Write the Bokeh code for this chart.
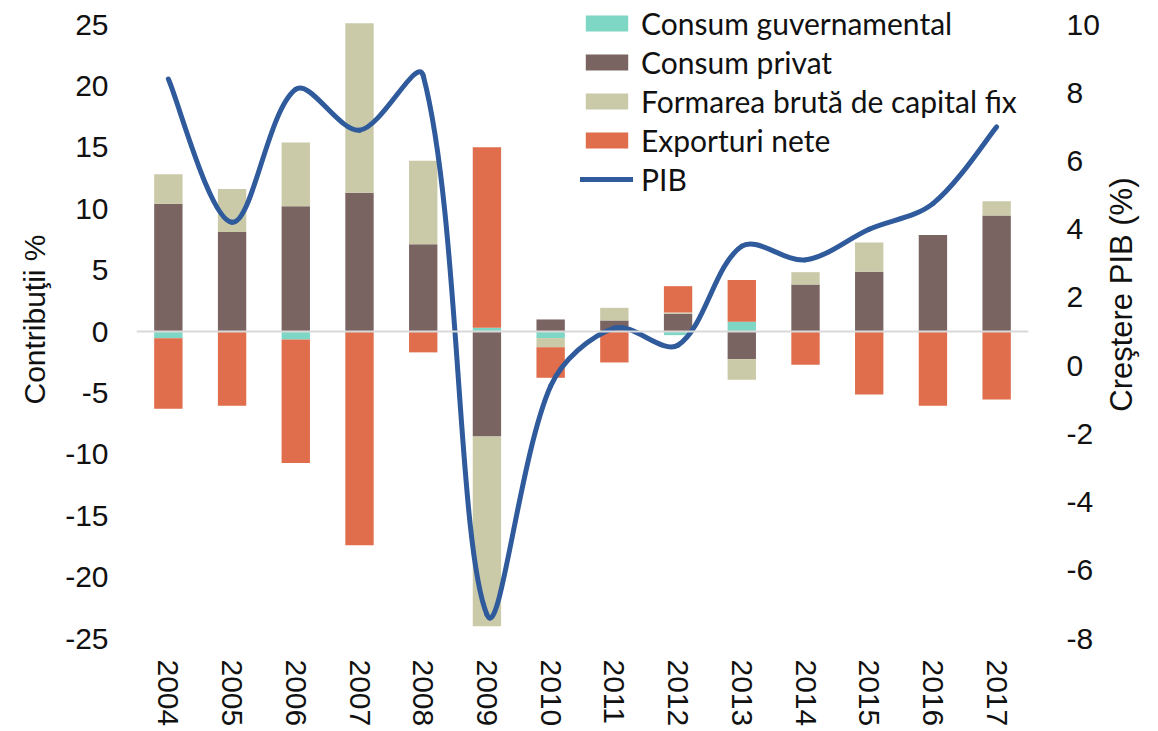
import math
import numpy as np
from bokeh.plotting import figure
from bokeh.layouts import row
from bokeh.models import (Range1d, LinearAxis, FixedTicker, Span, Legend,
                          LegendItem, ColumnDataSource)
from bokeh.core.properties import value
from bokeh.embed import file_html
from bokeh.resources import INLINE

# ---------------- data ----------------
years = [2004, 2005, 2006, 2007, 2008, 2009, 2010, 2011, 2012, 2013, 2014, 2015, 2016, 2017]
consum_guv = [-0.55, 0.0, -0.65, 0.0, 0.0, 0.3, -0.54, 0.0, -0.3, 0.8, 0.0, 0.0, 0.0, 0.0]
consum_priv = [10.4, 8.1, 10.2, 11.3, 7.1, -8.55, 0.98, 0.9, 1.45, -2.25, 3.83, 4.86, 7.85, 9.45]
fbcf = [2.4, 3.5, 5.2, 13.8, 6.8, -15.45, -0.74, 1.03, 0.1, -1.68, 1.0, 2.39, 0.0, 1.15]
export_nete = [-5.75, -6.05, -10.05, -17.4, -1.7, 14.7, -2.49, -2.52, 2.14, 3.4, -2.7, -5.13, -6.05, -5.54]
pib = [8.4, 4.2, 8.1, 6.9, 8.5, -7.3, -0.6, 1.1, 0.6, 3.5, 3.1, 4.0, 4.75, 7.0]

series_names = ["Consum guvernamental", "Consum privat",
                "Formarea brută de capital fix", "Exporturi nete"]
series_vals = [consum_guv, consum_priv, fbcf, export_nete]
series_colors = ["#7ed6c5", "#7a6461", "#cac9a8", "#e06d4b"]
pib_color = "#2f5a9b"

left_ticks = [-25, -20, -15, -10, -5, 0, 5, 10, 15, 20, 25]
right_ticks = [-8, -6, -4, -2, 0, 2, 4, 6, 8, 10]
left_title = "Contribuţii %"
right_title = "Creştere PIB (%)"

# ---------------- figure ----------------
TOTAL_W, H = 1158, 731
W = 1102                      # main figure; a narrow strip on the right holds the right title
MB_L, MB_R, MB_T, MB_B = 136, 72, 0, 93
FRAME_W = W - MB_L - MB_R
FRAME_H = H - MB_T - MB_B
FRAME_TOP_PAD = 24
frame_h_core = FRAME_H - FRAME_TOP_PAD
x_lo, x_hi = 2003.5, 2017.5
yl_lo, yl_hi = -25.0, 25.0 + FRAME_TOP_PAD * 50.0 / frame_h_core
yr_lo, yr_hi = -8.0, 10.0 + FRAME_TOP_PAD * 18.0 / frame_h_core
sx = FRAME_W / (x_hi - x_lo)        # px per year
sy = FRAME_H / (yr_hi - yr_lo)      # px per unit on right axis

p = figure(width=W, height=H, output_backend="svg", toolbar_location=None,
           x_range=Range1d(x_lo, x_hi), y_range=Range1d(yl_lo, yl_hi),
           min_border_left=MB_L, min_border_right=MB_R,
           min_border_top=MB_T, min_border_bottom=MB_B,
           y_axis_location=None, x_axis_location=None)
p.extra_y_ranges = {"pib": Range1d(yr_lo, yr_hi)}
p.outline_line_color = None
p.grid.visible = False
p.background_fill_color = "white"
p.border_fill_color = "white"

TICK_FONT = "Liberation Sans"


def style_axis(ax, standoff):
    ax.axis_line_color = None
    ax.major_tick_line_color = None
    ax.minor_tick_line_color = None
    ax.major_tick_out = 0
    ax.major_tick_in = 0
    ax.minor_tick_out = 0
    ax.minor_tick_in = 0
    ax.major_label_text_font = TICK_FONT
    ax.major_label_text_font_size = "30px"
    ax.major_label_text_color = "#111111"
    ax.major_label_standoff = standoff
    ax.axis_label_text_font = TICK_FONT
    ax.axis_label_text_font_size = "30px"
    ax.axis_label_text_font_style = "normal"
    ax.axis_label_text_color = "#111111"


yl = LinearAxis(ticker=FixedTicker(ticks=left_ticks), axis_label=left_title,
                major_label_overrides={t: str(t) for t in left_ticks})
style_axis(yl, 28)
yl.axis_label_standoff = 11
p.add_layout(yl, "left")

yr = LinearAxis(y_range_name="pib", ticker=FixedTicker(ticks=right_ticks),
                major_label_overrides={t: str(t) for t in right_ticks})
style_axis(yr, 38)
p.add_layout(yr, "right")

xb = LinearAxis(ticker=FixedTicker(ticks=years),
                major_label_overrides={y: str(y) for y in years})
style_axis(xb, 21)
xb.axis_label_standoff = 0
xb.major_label_orientation = "vertical"
p.add_layout(xb, "below")

# ---------------- stacked bars ----------------
pos_base = np.zeros(len(years))
neg_base = np.zeros(len(years))
renderers = []
for name, vals, col in zip(series_names, series_vals, series_colors):
    v = np.array(vals, dtype=float)
    bottom = np.where(v >= 0, pos_base, neg_base)
    top = bottom + v
    pos_base = np.where(v >= 0, top, pos_base)
    neg_base = np.where(v < 0, top, neg_base)
    src = ColumnDataSource(dict(x=years, bottom=bottom, top=top))
    r = p.vbar(x="x", bottom="bottom", top="top", width=0.445, source=src,
               fill_color=col, line_color=None)
    renderers.append(r)

# zero line
p.add_layout(Span(location=0, dimension="width", line_color="#d9d9d9", line_width=2))

# ---------------- smoothed PIB line (Excel-like bezier smoothing) ----------------
xs = np.array(years, dtype=float)
ys = np.array(pib, dtype=float)
n = len(xs)


def dist(i, j):
    return math.hypot((xs[j] - xs[i]) * sx, (ys[j] - ys[i]) * sy)


x0, y0, x1, y1, cx0, cy0, cx1, cy1 = [], [], [], [], [], [], [], []
for i in range(n - 1):
    ip = max(i - 1, 0)
    inn = min(i + 2, n - 1)
    d01 = dist(ip, i)
    d12 = dist(i, i + 1)
    d23 = dist(i + 1, inn)
    f1 = d12 / (d01 + d12) / 3.0 if d01 > 0 else 1.0 / 6.0
    f2 = d12 / (d12 + d23) / 3.0 if d23 > 0 else 1.0 / 6.0
    x0.append(xs[i]); y0.append(ys[i])
    x1.append(xs[i + 1]); y1.append(ys[i + 1])
    cx0.append(xs[i] + (xs[i + 1] - xs[ip]) * f1)
    cy0.append(ys[i] + (ys[i + 1] - ys[ip]) * f1)
    cx1.append(xs[i + 1] - (xs[inn] - xs[i]) * f2)
    cy1.append(ys[i + 1] - (ys[inn] - ys[i]) * f2)
bsrc = ColumnDataSource(dict(x0=x0, y0=y0, x1=x1, y1=y1, cx0=cx0, cy0=cy0, cx1=cx1, cy1=cy1))
p.bezier(x0="x0", y0="y0", x1="x1", y1="y1", cx0="cx0", cy0="cy0", cx1="cx1", cy1="cy1",
         source=bsrc, line_color=pib_color, line_width=5, line_cap="round",
         y_range_name="pib")
leg_line = p.line(x=[years[0]], y=[pib[0]], line_color=pib_color, line_width=5,
                  line_cap="round", y_range_name="pib")

# ---------------- legend ----------------
items = [LegendItem(label=nm, renderers=[r]) for nm, r in zip(series_names, renderers)]
items.append(LegendItem(label="PIB", renderers=[leg_line]))
LBL_H, SPC = 37, 2
leg_h = 5 * LBL_H + 4 * SPC
LEG_TOP = 4  # px below the frame top
legend = Legend(items=items, location=(444, FRAME_H - LEG_TOP - leg_h),
                glyph_width=53, glyph_height=20,
                label_height=LBL_H, spacing=SPC, padding=0, margin=0, label_standoff=8,
                border_line_color=None, background_fill_alpha=0,
                label_text_font="Lato", label_text_font_size="30px",
                label_text_color="#111111")
p.add_layout(legend)

# ---------------- right title strip ----------------
W2 = TOTAL_W - W
p2 = figure(width=W2, height=H, output_backend="svg", toolbar_location=None,
            x_range=Range1d(0, W2), y_range=Range1d(0, H), min_border=0,
            x_axis_location=None, y_axis_location=None)
p2.outline_line_color = None
p2.grid.visible = False
p2.text(x=[1121 - W], y=[H - 337], text=[right_title], angle=math.pi / 2,
        text_align="center", text_baseline="middle",
        text_font=value(TICK_FONT), text_font_size=value("31px"), text_color="#111111")

open("out.html", "w").write(file_html(row(p, p2, spacing=0), INLINE))
